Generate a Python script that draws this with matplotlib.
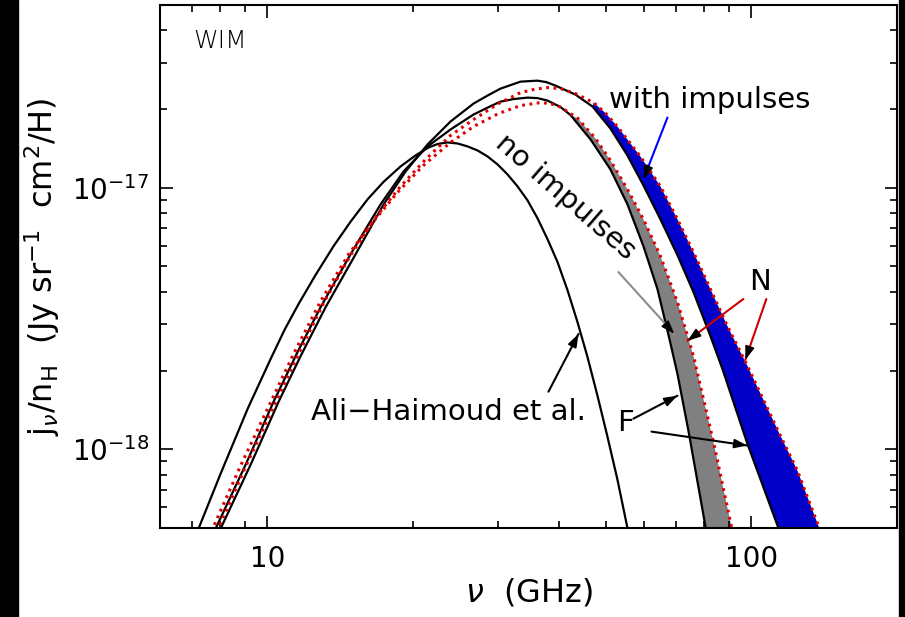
import numpy as np
import matplotlib
matplotlib.use("Agg")
import matplotlib.pyplot as plt
from matplotlib.ticker import NullFormatter, FixedLocator, FixedFormatter
from matplotlib.patches import Rectangle, FancyArrowPatch

plt.rcParams['font.family'] = ['DejaVu Sans']
plt.rcParams['mathtext.fontset'] = 'dejavusans'

# Emissivity per H in units of 1e-17 Jy sr^-1 cm^2 / H ; frequency in GHz
SCALE = 1e-17

# Ali-Haimoud et al. (2009)
nu_ahd = np.array([7.077, 8.009, 9.106, 10.16, 10.86, 11.60, 12.58, 13.70, 14.86, 16.11,
                   17.39, 18.85, 20.24, 21.53, 22.47, 23.56, 24.71, 25.92, 27.18, 28.50,
                   29.89, 31.34, 32.87, 34.47, 36.15, 37.92, 39.77, 41.69, 43.72, 45.85,
                   48.09, 50.43, 52.88, 56.02])
j_ahd = np.array([0.0457, 0.0808, 0.1429, 0.2217, 0.2870, 0.3593, 0.4642, 0.5978, 0.7420, 0.9031,
                  1.0541, 1.2066, 1.3290, 1.4254, 1.4699, 1.4901, 1.4764, 1.4387, 1.3884, 1.3174,
                  1.2282, 1.1249, 1.0124, 0.8953, 0.7645, 0.6358, 0.5195, 0.4063, 0.3068, 0.2256,
                  0.1602, 0.1117, 0.0766, 0.0457])

# with impulses, F (solid)
nu_f_imp = np.array([7.836, 9.237, 10.55, 11.72, 13.20, 15.22, 17.39, 19.31, 21.43, 23.90,
                     26.67, 28.50, 30.32, 33.35, 36.15, 37.73, 39.38, 43.31, 46.98, 51.15,
                     55.46, 59.84, 64.88, 70.35, 75.92, 82.28, 87.12, 98.12, 113.2, 115.8])
j_f_imp = np.array([0.0457, 0.0874, 0.1520, 0.2276, 0.3500, 0.5573, 0.8643, 1.1548, 1.4642, 1.7914,
                    2.0979, 2.2507, 2.3933, 2.5448, 2.5672, 2.5336, 2.4570, 2.2701, 2.0433, 1.6842,
                    1.3290, 1.0213, 0.7576, 0.5525, 0.3993, 0.2714, 0.2031, 0.1051, 0.0512, 0.0457])

# no impulses, F (solid)
nu_f_no = np.array([7.652, 9.02, 10.30, 11.55, 12.89, 14.86, 17.14, 19.12, 21.43, 23.90,
                    26.67, 28.50, 30.32, 32.25, 34.47, 36.15, 37.92, 40.34, 42.30, 46.54,
                    51.15, 55.46, 59.84, 63.97, 67.72, 70.35, 74.13, 81.19])
j_f_no = np.array([0.0457, 0.0874, 0.1520, 0.2357, 0.3500, 0.5573, 0.8643, 1.1548, 1.4387, 1.6698,
                   1.9051, 2.0239, 2.1350, 2.1823, 2.2110, 2.2015, 2.1542, 2.0346, 1.8963, 1.5298,
                   1.1752, 0.8643, 0.5978, 0.4100, 0.2642, 0.1944, 0.1178, 0.0457])

# with impulses, N (dotted)
nu_n_imp = np.array([7.754, 9.02, 10.25, 11.60, 13.13, 14.86, 16.74, 18.85, 21.23, 23.90,
                     26.67, 30.03, 33.35, 35.81, 37.92, 40.34, 43.31, 47.20, 49.95, 52.88,
                     58.99, 64.88, 70.35, 75.92, 82.28, 89.22, 98.12, 114.8, 124.5, 140.7])
j_n_imp = np.array([0.0457, 0.0859, 0.1429, 0.2317, 0.3688, 0.5525, 0.7712, 1.0123, 1.2833, 1.5841,
                    1.8231, 2.0979, 2.3107, 2.3833, 2.4143, 2.3933, 2.2906, 2.1164, 1.9301, 1.7140,
                    1.3174, 1.0123, 0.7576, 0.5672, 0.4100, 0.2961, 0.2085, 0.1128, 0.0829, 0.0457])

# no impulses, N (dotted)
nu_n_no = np.array([7.554, 8.808, 10.01, 11.33, 12.89, 14.72, 16.58, 18.58, 21.02, 23.90,
                    26.67, 30.03, 33.35, 36.67, 38.45, 40.34, 43.73, 47.63, 51.15, 55.46,
                    59.84, 64.88, 70.35, 75.92, 83.47, 92.05])
j_n_no = np.array([0.0457, 0.0867, 0.1429, 0.2317, 0.3688, 0.5573, 0.7446, 0.9605, 1.2174, 1.4901,
                   1.7140, 1.9218, 2.0613, 2.1164, 2.0977, 2.0344, 1.8471, 1.5432, 1.2720, 0.9861,
                   0.7576, 0.5476, 0.3656, 0.2276, 0.1070, 0.0457])

# frequencies above which the F-N spread is shaded
band_start_imp = 46.9
band_start_no = 42.0

# axis ticks
x_major = [10, 100]
x_major_labels = ['10', '100']
x_minor = [6, 7, 8, 9, 20, 30, 40, 50, 60, 70, 80, 90, 200]
y_major = [1e-18, 1e-17]
y_minor = [m * 1e-19 for m in range(5, 10)] + [m * 1e-18 for m in range(2, 10)] + \
          [m * 1e-17 for m in range(2, 6)]

fig = plt.figure(figsize=(9.05, 6.17), dpi=100)
fig.patch.set_facecolor('white')
fig.add_artist(Rectangle((0, 0), 18 / 905, 1, transform=fig.transFigure,
                         color='black', zorder=10))
fig.add_artist(Rectangle((899 / 905, 0), 6 / 905, 1, transform=fig.transFigure,
                         color='black', zorder=10))

ax = fig.add_axes([0.1768, 0.1443, 0.8144, 0.8477])
ax.set_xscale('log')
ax.set_yscale('log')
ax.set_xlim(6, 200)
ax.set_ylim(5e-19, 5e-17)


def band(nu_f, j_f, nu_n, j_n, nu0, color):
    mf = nu_f >= nu0
    mn = nu_n >= nu0
    xs = np.concatenate([nu_f[mf], nu_n[mn][::-1]])
    ys = np.concatenate([j_f[mf], j_n[mn][::-1]]) * SCALE
    ax.fill(xs, ys, color=color, lw=0, zorder=1)


band(nu_f_imp, j_f_imp, nu_n_imp, j_n_imp, band_start_imp, '#0000c8')
band(nu_f_no, j_f_no, nu_n_no, j_n_no, band_start_no, '#808080')

solid = dict(color='black', lw=1.6, zorder=3, solid_joinstyle='round')
ax.plot(nu_ahd, j_ahd * SCALE, **solid)
ax.plot(nu_f_imp, j_f_imp * SCALE, **solid)
ax.plot(nu_f_no, j_f_no * SCALE, **solid)

dotted = dict(color='#e00000', lw=2.2, ls=(0, (0.9, 1.5)), zorder=4)
ax.plot(nu_n_imp, j_n_imp * SCALE, **dotted)
ax.plot(nu_n_no, j_n_no * SCALE, **dotted)


def arrow(start, tip, shaft='black'):
    """Line from start to tip in the shaft colour, finished with a black head."""
    start = (start[0], start[1] * SCALE)
    tip = (tip[0], tip[1] * SCALE)
    ax.add_patch(FancyArrowPatch(start, tip, arrowstyle='-', color=shaft, lw=1.5,
                                 shrinkA=0, shrinkB=0, zorder=5))
    p0 = ax.transData.transform(start)
    p1 = ax.transData.transform(tip)
    d = (p1 - p0) / np.hypot(*(p1 - p0))
    back = ax.transData.inverted().transform(p1 - d * 9)
    ax.add_patch(FancyArrowPatch(tuple(back), tip,
                                 arrowstyle='-|>,head_length=0.8,head_width=0.28',
                                 color='black', lw=1.2, shrinkA=0, shrinkB=0,
                                 mutation_scale=10, zorder=6))


fs = 21
ax.text(81.9, 2.17 * SCALE, 'with impulses', ha='center', va='center', fontsize=fs)
arrow((67.09, 1.8553), (59.84, 1.0766), shaft='blue')

ax.text(41.29, 0.919 * SCALE, 'no impulses', ha='center', va='center', fontsize=fs,
        rotation=-41, rotation_mode='anchor')
arrow((53.13, 0.4760), (69.34, 0.2761), shaft='#8c8c8c')

ax.text(104.4, 0.4358 * SCALE, 'N', ha='center', va='center', fontsize=fs)
arrow((96.27, 0.3754), (73.78, 0.2597), shaft='#d00000')
arrow((107.4, 0.3754), (97.18, 0.2198), shaft='#d00000')

ax.text(54.94, 0.1264 * SCALE, 'F', ha='center', va='center', fontsize=fs)
arrow((57.06, 0.1309), (70.35, 0.1602))
arrow((62.18, 0.1168), (98.12, 0.1033))

ax.text(23.68, 0.1392 * SCALE, 'Ali\u2212Haimoud et al.', ha='center', va='center', fontsize=fs)
arrow((38.09, 0.1660), (43.95, 0.2761))

ax.text(0.082, 0.931, 'WIM', transform=ax.transAxes, ha='center', va='center',
        fontsize=18, fontweight='light', color='black')

# axes styling
for s in ax.spines.values():
    s.set_linewidth(1.5)
ax.xaxis.set_major_locator(FixedLocator(x_major))
ax.xaxis.set_major_formatter(FixedFormatter(x_major_labels))
ax.xaxis.set_minor_locator(FixedLocator(x_minor))
ax.xaxis.set_minor_formatter(NullFormatter())
ax.yaxis.set_major_locator(FixedLocator(y_major))
ax.yaxis.set_major_formatter(FixedFormatter([r'$10^{-18}$', r'$10^{-17}$']))
ax.yaxis.set_minor_locator(FixedLocator(y_minor))
ax.yaxis.set_minor_formatter(NullFormatter())
ax.tick_params(which='both', direction='in', top=True, right=True, width=1.2)
ax.tick_params(which='major', length=9, labelsize=20)
ax.tick_params(which='minor', length=5)
ax.tick_params(axis='x', which='major', pad=12)
ax.tick_params(axis='y', which='major', pad=8)

ax.set_xlabel(r'$\nu$  (GHz)', fontsize=23, labelpad=3)
ax.set_ylabel(r'$\mathrm{j}_{\nu}/\mathrm{n}_{\mathrm{H}}$  (Jy sr$^{-1}$  cm$^{2}$/H)',
              fontsize=23, labelpad=7)

fig.savefig('out.png', dpi=100, facecolor='white')
